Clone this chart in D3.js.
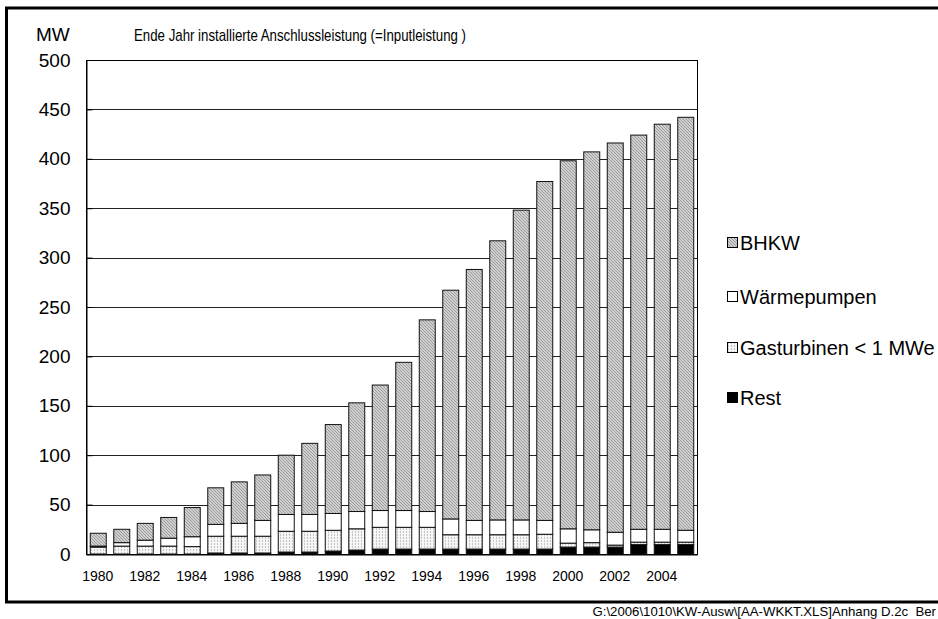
<!DOCTYPE html>
<html>
<head>
<meta charset="utf-8">
<script src="https://cdn.jsdelivr.net/npm/d3@7"></script>
<style>
  body { margin: 0; background: #fff; }
  svg { display: block; font-family: "Liberation Sans", Arial, sans-serif; }
</style>
</head>
<body>
<div class="chart"></div>
<script>
// values (MW)
const years = ['1980','1981','1982','1983','1984','1985','1986','1987','1988','1989','1990','1991','1992',
               '1993','1994','1995','1996','1997','1998','1999','2000','2001','2002','2003','2004','2005'];
const rest = [0,0,0,0,0,1,1,1,2,2,3,4,5,5,5,5,5,5,5,5,7,7,7,9.5,9.5,9.5];
const gasturbinen = [7,8,8,8,7.5,17,17,17,21,21,21,21.5,22,22,22,14.5,14.5,14.5,14.5,15,4,4.5,2,2.5,2.5,2.5];
const waermepumpen = [1,3.5,6,8,10,12,13,16,17,17,17,17.5,17,17,16,16,14.5,15,15,14,14.5,13,13,13,13,12];
const bhkw = [13,13.5,17,21,29.5,37,42,46,60,72,90,110,127,150,194,231.5,254,282.5,313.5,343,372.5,382.5,394,399,410,418];
const yTicks = [0,50,100,150,200,250,300,350,400,450,500];
const xLabels = ['1980','1982','1984','1986','1988','1990','1992','1994','1996','1998','2000','2002','2004'];
const seriesKeys = ['Rest','Gasturbinen < 1 MWe','Wärmepumpen','BHKW'];
const legendOrder = ['BHKW','Wärmepumpen','Gasturbinen < 1 MWe','Rest'];

const width = 938, height = 619;
const plot = {left: 86, right: 697, top: 60, bottom: 554};
const font = '"Liberation Sans", Arial, sans-serif';

const svg = d3.select('.chart').append('svg')
    .attr('width', width)
    .attr('height', height);

// fill patterns
const defs = svg.append('defs');
const hatch = defs.append('pattern').attr('id', 'hatch')
    .attr('patternUnits', 'userSpaceOnUse').attr('width', 3).attr('height', 3);
hatch.append('rect').attr('width', 3).attr('height', 3).attr('fill', '#d0d0d0');
hatch.append('path').attr('d', 'M0,0 L3,3 M-1,2 L1,4 M2,-1 L4,1')
    .attr('stroke', '#8e8e8e').attr('stroke-width', 0.8);
const dots = defs.append('pattern').attr('id', 'dots')
    .attr('patternUnits', 'userSpaceOnUse').attr('width', 3).attr('height', 3);
dots.append('rect').attr('width', 3).attr('height', 3).attr('fill', '#f6f6f6');
dots.append('rect').attr('x', 1).attr('y', 0).attr('width', 1).attr('height', 2).attr('fill', '#c4c4c4');

const fills = {
  'BHKW': 'url(#hatch)',
  'Wärmepumpen': '#fff',
  'Gasturbinen < 1 MWe': 'url(#dots)',
  'Rest': '#000'
};

// outer frame
svg.append('rect')
    .attr('x', 6.5).attr('y', 8)
    .attr('width', 945).attr('height', 594)
    .attr('fill', 'none').attr('stroke', '#000').attr('stroke-width', 3);

const x = d3.scaleBand().domain(years)
    .range([plot.left, plot.right])
    .paddingInner(0.32).paddingOuter(0.16);
const y = d3.scaleLinear().domain([0, 500]).range([plot.bottom, plot.top]);

// gridlines
svg.append('g')
  .selectAll('line')
  .data(yTicks.filter(d => d > 0 && d < 500))
  .enter().append('line')
    .attr('x1', plot.left).attr('x2', plot.right)
    .attr('y1', d => Math.round(y(d)) + 0.5).attr('y2', d => Math.round(y(d)) + 0.5)
    .attr('stroke', '#222').attr('stroke-width', 1);

// plot border
svg.append('rect')
    .attr('x', plot.left + 0.5).attr('y', plot.top + 0.5)
    .attr('width', plot.right - plot.left).attr('height', plot.bottom - plot.top)
    .attr('fill', 'none').attr('stroke', '#000').attr('stroke-width', 1);

// stacked bars
const table = years.map((yr, i) => ({
  year: yr,
  'Rest': rest[i],
  'Gasturbinen < 1 MWe': gasturbinen[i],
  'Wärmepumpen': waermepumpen[i],
  'BHKW': bhkw[i]
}));
const stacked = d3.stack().keys(seriesKeys)(table);

svg.append('g')
  .selectAll('g')
  .data(stacked)
  .enter().append('g')
    .attr('fill', d => fills[d.key])
  .selectAll('rect')
  .data(d => d.filter(s => s[1] - s[0] > 0))
  .enter().append('rect')
    .attr('x', d => x(d.data.year) + 0.5)
    .attr('width', x.bandwidth())
    .attr('y', d => y(d[1]))
    .attr('height', d => y(d[0]) - y(d[1]))
    .attr('stroke', '#111')
    .attr('stroke-width', 1);

// y axis
const yAxis = d3.axisLeft(y).tickValues(yTicks).tickSize(-6).tickPadding(16);
const gy = svg.append('g')
    .attr('transform', 'translate(' + (plot.left + 0.5) + ',0)')
    .call(yAxis);
gy.select('.domain').attr('stroke', '#000');
gy.selectAll('.tick line').attr('stroke', '#000');
gy.selectAll('.tick text')
    .attr('font-size', 19)
    .attr('font-family', font)
    .attr('fill', '#000');

// x axis
const xAxis = d3.axisBottom(x).tickValues(xLabels).tickSize(0).tickPadding(17);
const gx = svg.append('g')
    .attr('transform', 'translate(0,' + (plot.bottom + 0.5) + ')')
    .call(xAxis);
gx.select('.domain').attr('stroke', '#000');
gx.selectAll('.tick text')
    .attr('font-size', 14)
    .attr('font-family', font)
    .attr('fill', '#000');

// titles
svg.append('text')
    .attr('x', 36).attr('y', 41)
    .attr('font-size', 19)
    .text('MW');
svg.append('text')
    .attr('x', 134).attr('y', 41)
    .attr('font-size', 17)
    .attr('textLength', 332)
    .attr('lengthAdjust', 'spacingAndGlyphs')
    .text('Ende Jahr installierte Anschlussleistung (=Inputleistung )');

// legend
const legendY = [243, 297, 348, 398];
const legend = svg.append('g')
  .selectAll('g')
  .data(legendOrder)
  .enter().append('g')
    .attr('transform', (d, i) => 'translate(727,' + legendY[i] + ')');
legend.append('rect')
    .attr('x', 0.5).attr('y', -5.5)
    .attr('width', 10).attr('height', 10)
    .attr('fill', d => fills[d])
    .attr('stroke', '#000').attr('stroke-width', 1);
legend.append('text')
    .attr('x', 13).attr('y', 7)
    .attr('font-size', 20)
    .text(d => d);

// footer path (truncated at the page edge, as in the source)
svg.append('text')
    .attr('x', 936).attr('y', 616)
    .attr('text-anchor', 'end')
    .attr('font-size', 13.2)
    .style('white-space', 'pre')
    .text('G:\\2006\\1010\\KW-Ausw\\[AA-WKKT.XLS]Anhang D.2c  Ber');
</script>
</body>
</html>
